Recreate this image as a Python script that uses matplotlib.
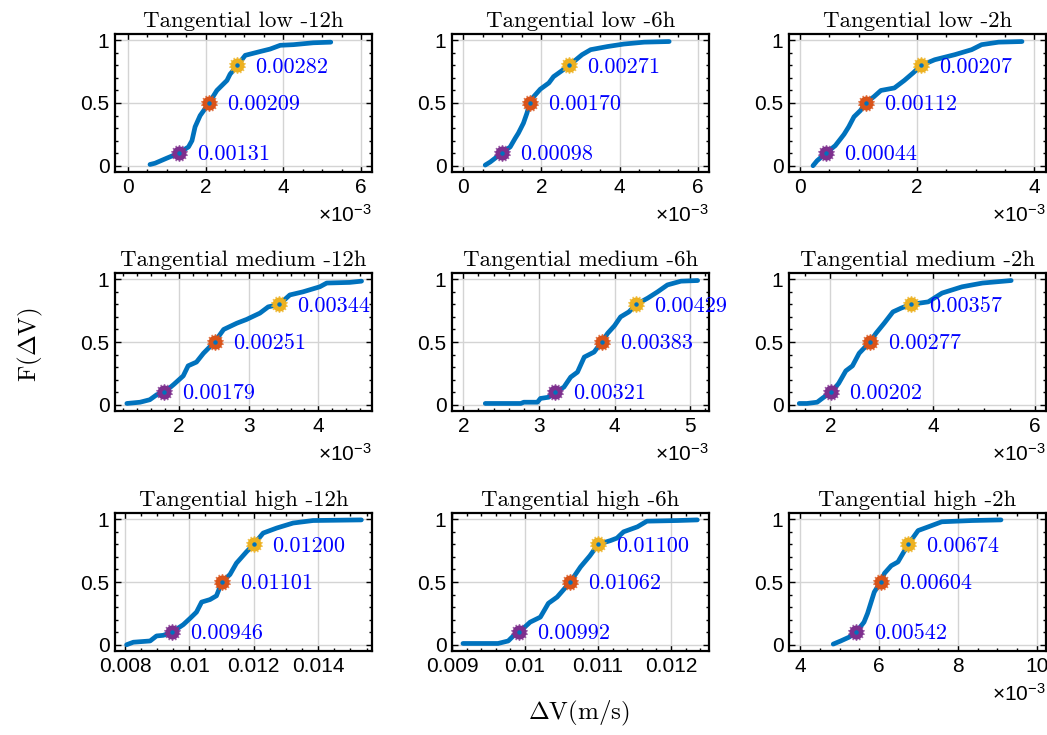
import numpy as np
import matplotlib
matplotlib.use('Agg')
import matplotlib.pyplot as plt
from matplotlib.ticker import MultipleLocator, FuncFormatter

plt.rcParams['font.family'] = 'Liberation Sans'
plt.rcParams['mathtext.fontset'] = 'custom'
plt.rcParams['mathtext.rm'] = 'Liberation Sans'
plt.rcParams['mathtext.it'] = 'Liberation Sans:italic'

# ---------------------------------------------------------------------------
# empirical CDF of Delta V for each case (dV in 1e-3 m/s, F in [0,1])
# ---------------------------------------------------------------------------
titles = ['Tangential low -12h', 'Tangential low -6h', 'Tangential low -2h',
          'Tangential medium -12h', 'Tangential medium -6h', 'Tangential medium -2h',
          'Tangential high -12h', 'Tangential high -6h', 'Tangential high -2h']

low_12h_dv = [0.57, 0.70, 1.00, 1.31, 1.56, 1.65, 1.73, 1.86, 2.09, 2.29, 2.42, 2.55, 2.63,
              2.82, 3.02, 3.40, 3.66, 3.92, 4.26, 4.77, 5.22]
low_12h_F = [0.01, 0.02, 0.06, 0.10, 0.15, 0.20, 0.31, 0.40, 0.50, 0.60, 0.64, 0.68, 0.73,
             0.80, 0.88, 0.91, 0.93, 0.96, 0.965, 0.98, 0.985]

low_6h_dv = [0.56, 0.69, 0.98, 1.20, 1.33, 1.41, 1.54, 1.63, 1.70, 1.80, 1.97, 2.19, 2.31,
             2.49, 2.71, 3.04, 3.26, 3.69, 4.11, 4.63, 5.27]
low_6h_F = [0.005, 0.03, 0.10, 0.15, 0.22, 0.26, 0.34, 0.42, 0.50, 0.55, 0.61, 0.66, 0.71,
            0.75, 0.80, 0.885, 0.925, 0.95, 0.97, 0.985, 0.99]

low_2h_dv = [0.22, 0.29, 0.44, 0.60, 0.75, 0.83, 0.92, 1.03, 1.12, 1.26, 1.38, 1.61, 1.78,
             1.93, 2.07, 2.30, 2.64, 2.93, 3.10, 3.39, 3.79]
low_2h_F = [0.0, 0.04, 0.10, 0.16, 0.25, 0.31, 0.39, 0.44, 0.50, 0.55, 0.60, 0.62, 0.68,
            0.74, 0.80, 0.845, 0.885, 0.925, 0.965, 0.985, 0.99]

med_12h_dv = [1.25, 1.44, 1.58, 1.68, 1.79, 1.92, 2.06, 2.13, 2.25, 2.35, 2.51, 2.64, 2.83,
              2.97, 3.16, 3.28, 3.44, 3.59, 3.78, 4.02, 4.12, 4.45, 4.62]
med_12h_F = [0.01, 0.02, 0.04, 0.08, 0.10, 0.16, 0.23, 0.31, 0.34, 0.41, 0.50, 0.60, 0.65,
             0.68, 0.73, 0.78, 0.80, 0.875, 0.90, 0.94, 0.97, 0.975, 0.985]

med_6h_dv = [2.29, 2.76, 2.80, 2.98, 3.02, 3.13, 3.21, 3.33, 3.42, 3.51, 3.60, 3.73, 3.83,
             3.91, 4.00, 4.08, 4.19, 4.29, 4.44, 4.57, 4.70, 4.88, 5.10]
med_6h_F = [0.01, 0.01, 0.02, 0.02, 0.05, 0.06, 0.10, 0.14, 0.22, 0.26, 0.38, 0.42, 0.50,
            0.57, 0.63, 0.70, 0.74, 0.80, 0.85, 0.90, 0.955, 0.985, 0.99]

med_2h_dv = [1.39, 1.54, 1.74, 1.87, 2.02, 2.16, 2.30, 2.43, 2.56, 2.77, 2.89, 3.05, 3.22,
             3.38, 3.57, 3.91, 4.18, 4.57, 4.97, 5.53]
med_2h_F = [0.01, 0.01, 0.02, 0.06, 0.10, 0.17, 0.27, 0.31, 0.41, 0.50, 0.57, 0.65, 0.74,
            0.77, 0.80, 0.82, 0.89, 0.94, 0.97, 0.99]

high_12h_dv = [8.05, 8.26, 8.78, 8.98, 9.19, 9.46, 9.81, 10.02, 10.22, 10.38, 10.64, 10.84,
               11.01, 11.26, 11.46, 11.77, 12.00, 12.29, 12.71, 13.22, 13.84, 15.34]
high_12h_F = [0.0, 0.02, 0.03, 0.07, 0.075, 0.10, 0.16, 0.21, 0.26, 0.34, 0.36, 0.39,
              0.50, 0.56, 0.65, 0.74, 0.80, 0.89, 0.93, 0.97, 0.99, 0.995]

high_6h_dv = [9.15, 9.63, 9.77, 9.84, 9.92, 10.07, 10.21, 10.32, 10.44, 10.62, 10.76, 10.89,
              11.00, 11.17, 11.26, 11.35, 11.54, 11.67, 12.09, 12.36]
high_6h_F = [0.01, 0.01, 0.03, 0.07, 0.10, 0.18, 0.22, 0.33, 0.38, 0.50, 0.62, 0.71,
             0.80, 0.83, 0.85, 0.90, 0.94, 0.985, 0.99, 0.995]

high_2h_dv = [4.84, 5.03, 5.24, 5.42, 5.62, 5.71, 5.79, 5.88, 6.04, 6.14, 6.31, 6.48, 6.61,
              6.74, 6.99, 7.25, 7.59, 8.36, 9.09]
high_2h_F = [0.005, 0.03, 0.06, 0.10, 0.18, 0.25, 0.33, 0.42, 0.50, 0.57, 0.63, 0.66, 0.73,
             0.80, 0.91, 0.94, 0.98, 0.99, 0.995]

curves_dv = [low_12h_dv, low_6h_dv, low_2h_dv, med_12h_dv, med_6h_dv, med_2h_dv,
             high_12h_dv, high_6h_dv, high_2h_dv]
curves_F = [low_12h_F, low_6h_F, low_2h_F, med_12h_F, med_6h_F, med_2h_F,
            high_12h_F, high_6h_F, high_2h_F]

# quantiles of Delta V (m/s) at F = 0.1, 0.5, 0.8
q_levels = [0.1, 0.5, 0.8]
q10 = [0.00131, 0.00098, 0.00044, 0.00179, 0.00321, 0.00202, 0.00946, 0.00992, 0.00542]
q50 = [0.00209, 0.00170, 0.00112, 0.00251, 0.00383, 0.00277, 0.01101, 0.01062, 0.00604]
q80 = [0.00282, 0.00271, 0.00207, 0.00344, 0.00429, 0.00357, 0.01200, 0.01100, 0.00674]

# ---------------------------------------------------------------------------
# axis settings per panel
# ---------------------------------------------------------------------------
xlims = [(-0.33e-3, 6.28e-3), (-0.29e-3, 6.29e-3), (-0.19e-3, 4.2e-3),
         (1.08e-3, 4.77e-3), (1.85e-3, 5.25e-3), (1.19e-3, 6.21e-3),
         (7.69e-3, 15.67e-3), (9.0e-3, 12.52e-3), (3.72e-3, 10.23e-3)]
major = [2e-3, 2e-3, 2e-3, 1e-3, 1e-3, 2e-3, 2e-3, 1e-3, 2e-3]
minor = [0.5e-3, 0.5e-3, 0.5e-3, 0.2e-3, 0.2e-3, 0.5e-3, 0.5e-3, 0.2e-3, 0.5e-3]
sci = [True, True, True, True, True, True, False, False, True]

line_c = '#0072BD'
q_colors = ['#7E2F8E', '#D95319', '#EDB120']

W, H = 1047, 735
fig = plt.figure(figsize=(W / 100, H / 100), dpi=100)

col_left = [115, 452, 789]
row_top = [34, 273, 513]
aw, ah = 257, 138

for k in range(9):
    r, c = divmod(k, 3)
    ax = fig.add_axes([col_left[c] / W, 1 - (row_top[r] + ah) / H, aw / W, ah / H])

    dv = np.array(curves_dv[k]) * 1e-3
    ax.plot(dv, curves_F[k], color=line_c, lw=3.4, solid_capstyle='round', zorder=3)

    for qv, lev, qc in zip([q10[k], q50[k], q80[k]], q_levels, q_colors):
        ax.plot(qv, lev, marker=(14, 1, 0), ms=12, color=qc, mec=qc, alpha=0.7, zorder=4)
        ax.plot(qv, lev, marker='o', ms=9, color=qc, mec=qc, zorder=5)
        ax.plot(qv, lev, marker='o', ms=2.2, color=line_c, mec=line_c, zorder=6)
        ax.annotate('%.5f' % qv, xy=(qv, lev), xytext=(13, -1), textcoords='offset points',
                    va='center', ha='left', color='blue', family='cmr10', fontsize=16,
                    annotation_clip=False, zorder=7)

    ax.set_xlim(*xlims[k])
    ax.set_ylim(-0.05, 1.05)
    ax.xaxis.set_major_locator(MultipleLocator(major[k]))
    ax.xaxis.set_minor_locator(MultipleLocator(minor[k]))
    ax.yaxis.set_major_locator(MultipleLocator(0.5))
    ax.yaxis.set_minor_locator(MultipleLocator(0.1))
    if sci[k]:
        ax.xaxis.set_major_formatter(FuncFormatter(lambda v, p: '%g' % round(v * 1e3, 6)))
        ax.annotate(r'$\times10^{-3}$', xy=(1, 0), xycoords='axes fraction',
                    xytext=(0, -23), textcoords='offset points', ha='right', va='top',
                    fontsize=15)
    else:
        ax.xaxis.set_major_formatter(FuncFormatter(lambda v, p: '%g' % round(v, 6)))
    ax.yaxis.set_major_formatter(FuncFormatter(lambda v, p: '%g' % v))

    ax.grid(True, which='major', color='#d4d4d4', lw=1)
    ax.set_axisbelow(True)
    for s in ax.spines.values():
        s.set_linewidth(1.6)
    ax.tick_params(which='both', direction='in', top=True, right=True, width=1)
    ax.tick_params(which='major', length=4.5, labelsize=15, pad=4)
    ax.tick_params(which='minor', length=2.5)
    ax.set_title(titles[k], family='cmr10', fontsize=16.5, pad=5)

fig.text(579 / W, 1 - 713 / H, r'$\Delta\mathrm{V(m/s)}$', ha='center', va='center',
         fontsize=18, math_fontfamily='cm')
fig.text(30 / W, 1 - 345 / H, r'$\mathrm{F(}\Delta\mathrm{V)}$', ha='center', va='center',
         rotation=90, fontsize=18, math_fontfamily='cm')

fig.savefig('out.png', dpi=100, facecolor='white')
